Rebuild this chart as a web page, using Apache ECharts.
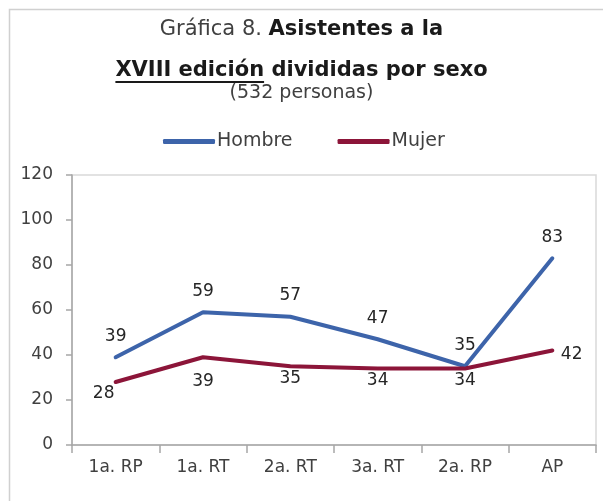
<!DOCTYPE html>
<html>
<head>
<meta charset="utf-8">
<script src="https://cdn.jsdelivr.net/npm/echarts@6/dist/echarts.min.js"></script>
<style>
  html, body { margin: 0; padding: 0; background: #fff; }
  #chart { width: 603px; height: 501px; }
</style>
</head>
<body>
<div id="chart"></div>
<script>
  // datos
  const categorias = ['1a. RP', '1a. RT', '2a. RT', '3a. RT', '2a. RP', 'AP']
  const hombre = [39, 59, 57, 47, 35, 83]
  const mujer = [28, 39, 35, 34, 34, 42]
  const yTicks = { min: 0, max: 120, interval: 20 }

  const FONT = 'DejaVu Sans'
  const azul = '#3D64AA'
  const rojo = '#8C1539'
  const gris = '#a6a6a6'

  // medir el texto subrayado
  const ctx = document.createElement('canvas').getContext('2d')
  ctx.font = 'bold 21px "' + FONT + '"'
  const wUnder = ctx.measureText('XVIII edición').width
  const wLine = ctx.measureText('XVIII edición divididas por sexo').width
  const x0 = 603 / 2 - wLine / 2

  // posiciones especiales de etiquetas (Mujer)
  const etiquetasMujer = {
    0: { offset: [-12, 0] },
    1: { distance: 15 },
    5: { position: 'right', distance: 8, offset: [0, 4] },
  }

  const chart = echarts.init(document.getElementById('chart'))

  const option = {
    backgroundColor: '#fff',
    textStyle: { fontFamily: FONT },
    title: [
      {
        text: '{n|Gráfica 8. }{b|Asistentes a la}',
        left: 'center',
        top: 17,
        padding: 0,
        textStyle: {
          fontWeight: 'normal',
          rich: {
            n: { fontFamily: FONT, fontSize: 21, fontWeight: 'normal', color: '#404040', lineHeight: 26 },
            b: { fontFamily: FONT, fontSize: 21, fontWeight: 'bold', color: '#1a1a1a', lineHeight: 26 },
          },
        },
      },
      {
        text: 'XVIII edición divididas por sexo',
        left: 'center',
        top: 58,
        padding: 0,
        textStyle: { fontFamily: FONT, fontSize: 21, fontWeight: 'bold', color: '#1a1a1a', lineHeight: 26 },
      },
      {
        text: '(532 personas)',
        left: 'center',
        top: 81,
        padding: 0,
        textStyle: { fontFamily: FONT, fontSize: 19, fontWeight: 'normal', color: '#404040', lineHeight: 24 },
      },
    ],
    legend: {
      top: 132,
      left: 163,
      padding: 0,
      itemWidth: 52,
      itemHeight: 5,
      itemGap: 45,
      icon: 'roundRect',
      textStyle: { fontFamily: FONT, fontSize: 19, color: '#404040', padding: [0, 0, 0, -3] },
      data: ['Hombre', 'Mujer'],
    },
    grid: {
      left: 72,
      right: 7,
      top: 175,
      bottom: 56,
      show: true,
      borderColor: '#d9d9d9',
      borderWidth: 1.5,
    },
    xAxis: {
      type: 'category',
      data: categorias,
      boundaryGap: true,
      axisLine: { lineStyle: { color: gris, width: 1.5 } },
      axisTick: { show: true, length: 8, lineStyle: { color: gris, width: 1.5 } },
      axisLabel: { fontFamily: FONT, fontSize: 17, color: '#404040', margin: 14 },
    },
    yAxis: {
      type: 'value',
      min: yTicks.min,
      max: yTicks.max,
      interval: yTicks.interval,
      splitLine: { show: false },
      axisLine: { show: true, lineStyle: { color: gris, width: 1.5 } },
      axisTick: { show: true, length: 6, lineStyle: { color: gris, width: 1.5 } },
      axisLabel: { fontFamily: FONT, fontSize: 17, color: '#404040', margin: 19 },
    },
    series: [
      {
        name: 'Hombre',
        type: 'line',
        data: hombre,
        color: azul,
        lineStyle: { width: 4, color: azul, cap: 'round' },
        showSymbol: true,
        symbol: 'circle',
        symbolSize: 1,
        label: {
          show: true,
          position: 'top',
          distance: 12,
          fontFamily: FONT,
          fontSize: 17,
          color: '#262626',
        },
      },
      {
        name: 'Mujer',
        type: 'line',
        data: mujer.map((v, i) =>
          etiquetasMujer[i] ? { value: v, label: etiquetasMujer[i] } : v
        ),
        color: rojo,
        lineStyle: { width: 4, color: rojo, cap: 'round' },
        showSymbol: true,
        symbol: 'circle',
        symbolSize: 1,
        label: {
          show: true,
          position: 'bottom',
          distance: 3,
          fontFamily: FONT,
          fontSize: 17,
          color: '#262626',
        },
      },
    ],
    graphic: [
      {
        type: 'rect',
        shape: { x: 9.5, y: 9.5, width: 640, height: 540 },
        style: { fill: 'none', stroke: '#d0d0d0', lineWidth: 1.5 },
        silent: true,
      },
      {
        type: 'line',
        shape: { x1: x0, y1: 82, x2: x0 + wUnder, y2: 82 },
        style: { stroke: '#1a1a1a', lineWidth: 2 },
        silent: true,
      },
    ],
  }

  chart.setOption(option)
</script>
</body>
</html>
